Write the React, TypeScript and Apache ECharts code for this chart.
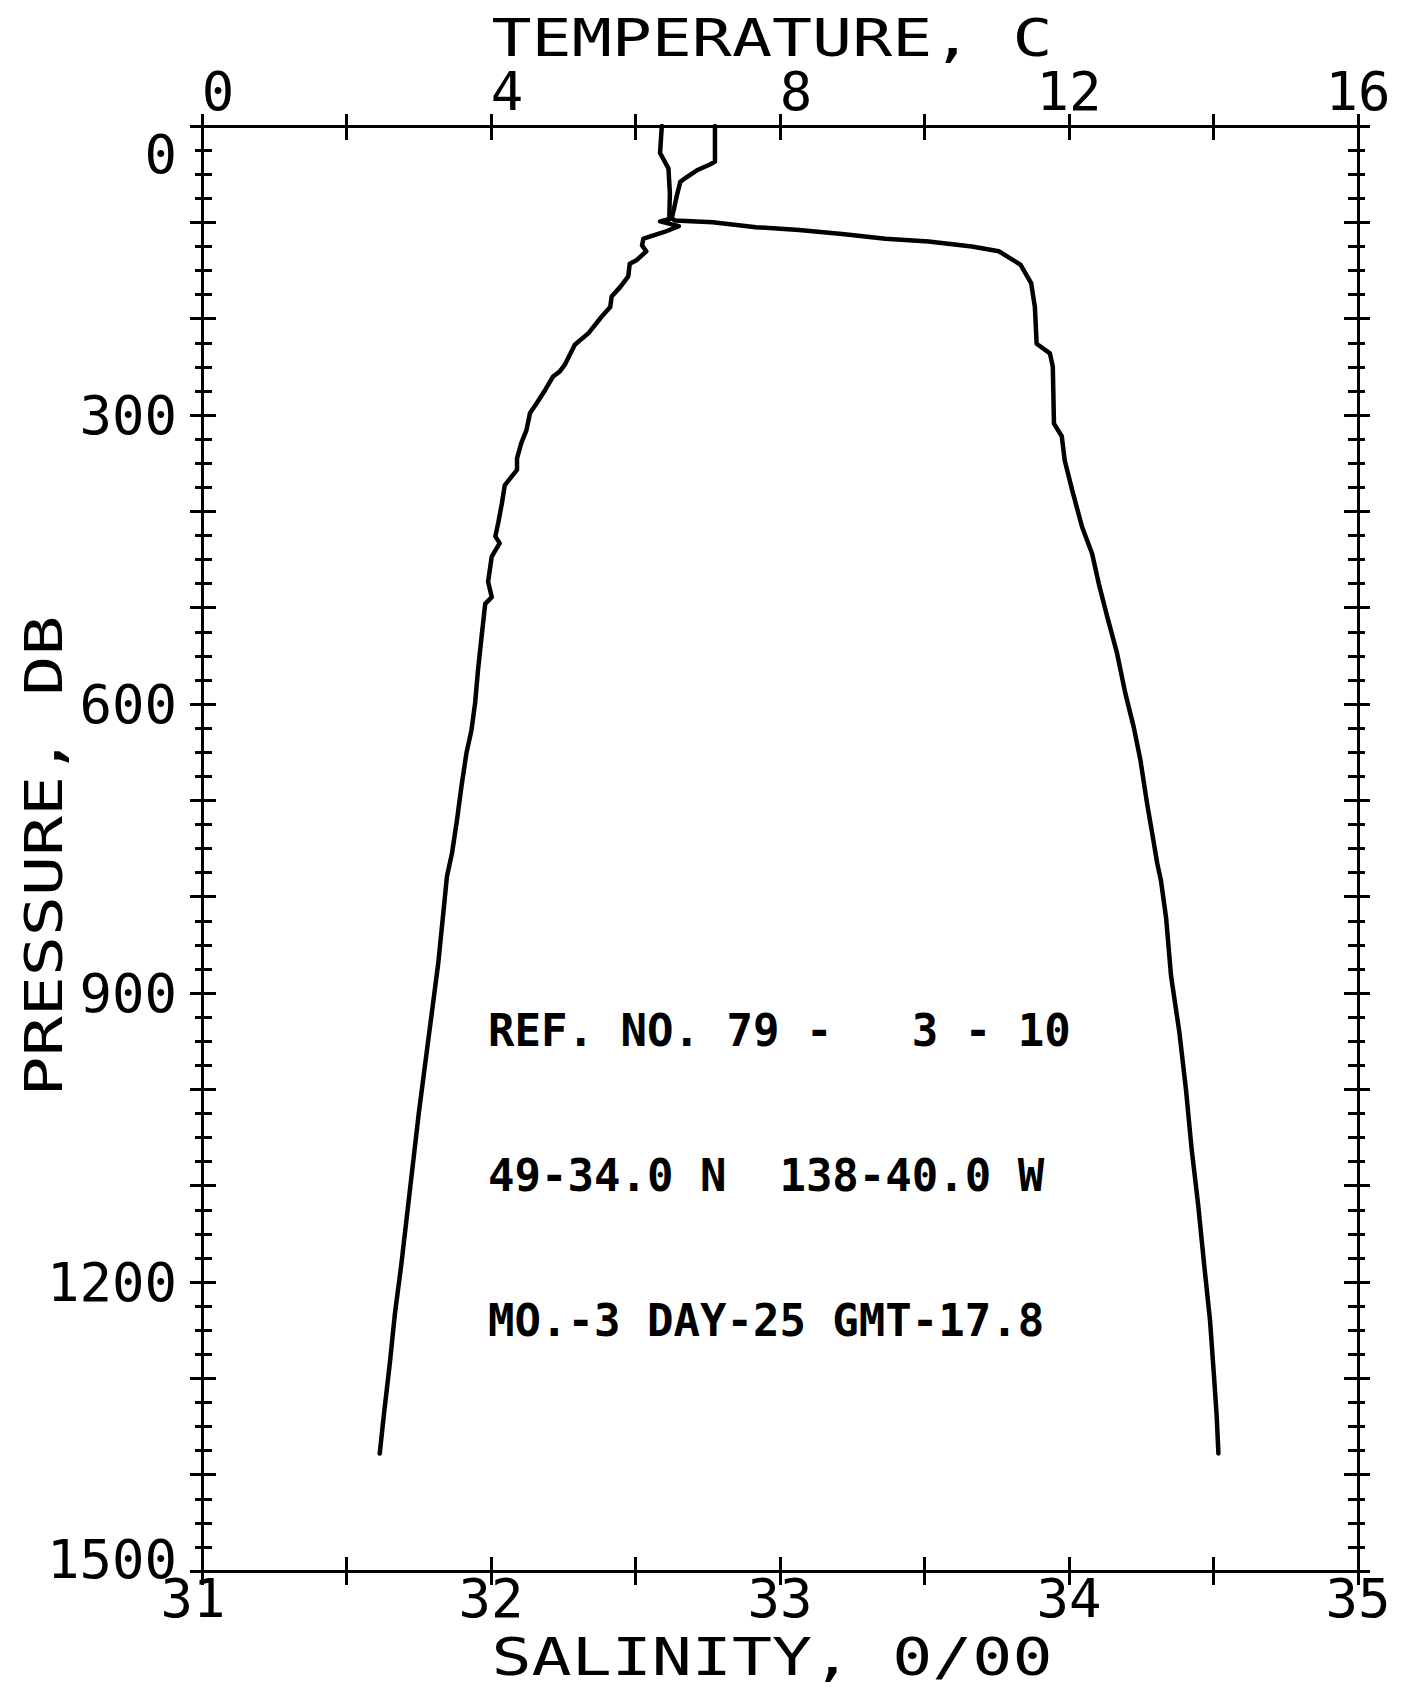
import React, { useEffect, useRef } from "react";
import * as echarts from "echarts";

// Temperature profile (deg C) vs pressure (dbar)
const temperatureC = [
  7.10, 7.10, 7.03, 6.85, 6.71, 6.62, 6.57, 6.53, 6.50, 6.34, 6.60, 6.40, 6.11, 6.09, 6.15, 6.02,
  5.92, 5.90, 5.79, 5.67, 5.65, 5.53, 5.35, 5.16, 5.02, 4.95, 4.86, 4.75, 4.63, 4.54, 4.49, 4.42,
  4.36, 4.36, 4.19, 4.15, 4.10, 4.06, 4.12, 4.01, 3.96, 4.01, 3.92, 3.87, 3.82, 3.78, 3.73, 3.66,
  3.59, 3.53, 3.46, 3.39, 3.34, 3.27, 3.18, 3.09, 3.00, 2.92, 2.84, 2.76, 2.67, 2.60, 2.52, 2.46,
];
const temperaturePressure = [
  0, 37, 40, 46, 53, 58, 73, 87, 96, 99, 104, 110, 117, 124, 130, 139,
  143, 156, 167, 177, 188, 198, 215, 227, 248, 255, 260, 274, 288, 298, 316, 329,
  345, 357, 373, 392, 412, 426, 433, 447, 473, 489, 496, 530, 565, 599, 627, 651,
  686, 720, 755, 779, 817, 869, 921, 973, 1025, 1077, 1129, 1181, 1233, 1284, 1336, 1378,
];

// Salinity profile (o/oo) vs pressure (dbar)
const salinity = [
  32.591, 32.585, 32.614, 32.619, 32.617, 32.636, 32.767, 32.917, 33.066, 33.215, 33.365, 33.514,
  33.664, 33.757, 33.832, 33.869, 33.882, 33.888, 33.934, 33.944, 33.946, 33.948, 33.975, 33.985,
  34.011, 34.045, 34.08, 34.103, 34.132, 34.166, 34.195, 34.224, 34.247, 34.27, 34.29, 34.305,
  34.318, 34.336, 34.353, 34.382, 34.405, 34.424, 34.447, 34.467, 34.488, 34.502, 34.511, 34.517,
];
const salinityPressure = [
  0, 28, 44, 70, 94, 98, 100, 105, 108, 112, 117, 120,
  125, 130, 144, 163, 188, 226, 236, 250, 280, 309, 322, 347,
  378, 416, 444, 475, 509, 547, 589, 624, 658, 703, 738, 765,
  783, 822, 882, 941, 1001, 1061, 1120, 1180, 1240, 1299, 1339, 1378,
];

const temperatureTickLabels = [0, 4, 8, 12, 16];
const salinityTickLabels = [31, 32, 33, 34, 35];
const pressureTickLabels = [0, 300, 600, 900, 1200, 1500];

const infoLines = ["REF. NO. 79 -   3 - 10", "49-34.0 N  138-40.0 W", "MO.-3 DAY-25 GMT-17.8"];
const titleTop = "TEMPERATURE, C";
const titleBottom = "SALINITY, 0/00";
const titleLeft = "PRESSURE, DB";

const FONT = '"DejaVu Sans Mono", "Liberation Mono", monospace';
const BLACK = "#000";

export default function App() {
  const ref = useRef<HTMLDivElement | null>(null);

  useEffect(() => {
    if (!ref.current) return;
    const chart = echarts.init(ref.current, null, { renderer: "svg" });

    const tempData = temperatureC.map((t, i) => [t, temperaturePressure[i]]);
    const salData = salinity.map((s, i) => [s, salinityPressure[i]]);

    const lineStyle = { color: BLACK, width: 3 };
    const labelBase = {
      color: BLACK,
      fontFamily: FONT,
      fontSize: 54,
    };

    const xBase = (extra: any) => ({
      type: "value",
      splitLine: { show: false },
      axisLine: { show: true, onZero: false, lineStyle },
      ...extra,
    });
    const yBase = (extra: any) => ({
      type: "value",
      inverse: true,
      min: 0,
      max: 1500,
      interval: 100,
      splitLine: { show: false },
      axisLine: { show: true, onZero: false, lineStyle },
      minorSplitLine: { show: false },
      ...extra,
    });

    const titleStyle = (text: string) => ({
      text,
      fill: BLACK,
      fontFamily: FONT,
      fontSize: 52,
      align: "center",
      verticalAlign: "middle",
      textAlign: "center",
      textVerticalAlign: "middle",
    });

    const option: any = {
      animation: false,
      backgroundColor: "#fff",
      grid: { left: 202, right: 49, top: 126, bottom: 122, containLabel: false },
      xAxis: [
        xBase({
          position: "bottom",
          min: 31,
          max: 35,
          interval: 0.5,
          axisTick: { show: true, inside: false, length: 14, lineStyle },
          axisLabel: {
            ...labelBase,
            margin: 0,
            showMinLabel: true,
            showMaxLabel: true,
            formatter: (v: number) =>
              salinityTickLabels.includes(v) ? (v === 31 ? `{l|${v}}` : `${v}`) : "",
            rich: { l: { ...labelBase, padding: [0, 18, 0, 0] } },
          },
        }),
        xBase({
          position: "bottom",
          min: 31,
          max: 35,
          interval: 0.5,
          axisTick: { show: true, inside: true, length: 14, lineStyle },
          axisLabel: { show: false },
        }),
        xBase({
          position: "top",
          min: 0,
          max: 16,
          interval: 2,
          axisTick: { show: true, inside: false, length: 12, lineStyle },
          axisLabel: {
            ...labelBase,
            margin: 8,
            showMinLabel: true,
            showMaxLabel: true,
            formatter: (v: number) =>
              temperatureTickLabels.includes(v) ? (v < 10 ? `{d|${v}}` : `${v}`) : "",
            rich: { d: { ...labelBase, padding: [0, 0, 0, 32] } },
          },
        }),
        xBase({
          position: "top",
          min: 0,
          max: 16,
          interval: 2,
          axisTick: { show: true, inside: true, length: 14, lineStyle },
          axisLabel: { show: false },
        }),
      ],
      yAxis: [
        yBase({
          position: "left",
          axisTick: { show: true, inside: false, length: 12, lineStyle },
          minorTick: { show: true, splitNumber: 4, length: 7, lineStyle },
          axisLabel: {
            ...labelBase,
            margin: 25,
            lineHeight: 44,
            showMinLabel: true,
            showMaxLabel: true,
            formatter: (v: number) => {
              if (!pressureTickLabels.includes(v)) return "";
              if (v === 0) return "{gap| }\n0";
              if (v === 1500) return "1500\n{gap2| }";
              return `${v}`;
            },
            rich: {
              gap: { fontSize: 10, lineHeight: 56 },
              gap2: { fontSize: 10, lineHeight: 24 },
            },
          },
        }),
        yBase({
          position: "left",
          axisTick: { show: true, inside: true, length: 14, lineStyle },
          minorTick: { show: true, splitNumber: 4, length: 10, lineStyle },
          axisLabel: { show: false },
        }),
        yBase({
          position: "right",
          axisTick: { show: true, inside: false, length: 12, lineStyle },
          minorTick: { show: true, splitNumber: 4, length: 7, lineStyle },
          axisLabel: { show: false },
        }),
        yBase({
          position: "right",
          axisTick: { show: true, inside: true, length: 14, lineStyle },
          minorTick: { show: true, splitNumber: 4, length: 10, lineStyle },
          axisLabel: { show: false },
        }),
      ],
      series: [
        {
          name: "Temperature",
          type: "line",
          xAxisIndex: 2,
          yAxisIndex: 0,
          data: tempData,
          showSymbol: false,
          symbol: "none",
          silent: true,
          lineStyle: { color: BLACK, width: 4.5, join: "round", cap: "round" },
        },
        {
          name: "Salinity",
          type: "line",
          xAxisIndex: 0,
          yAxisIndex: 0,
          data: salData,
          showSymbol: false,
          symbol: "none",
          silent: true,
          lineStyle: { color: BLACK, width: 4.5, join: "round", cap: "round" },
        },
      ],
      graphic: [
        { type: "text", x: 772, y: 38, scaleX: 1.28, style: titleStyle(titleTop) },
        { type: "text", x: 772, y: 1657, scaleX: 1.28, style: titleStyle(titleBottom) },
        {
          type: "text",
          x: 44,
          y: 856,
          rotation: Math.PI / 2,
          scaleX: 1.28,
          style: titleStyle(titleLeft),
        },
        ...infoLines.map((line, i) => ({
          type: "text",
          x: 488,
          y: 1030 + i * 145,
          style: {
            text: line,
            fill: BLACK,
            fontFamily: FONT,
            fontSize: 44,
            fontWeight: "bold",
            align: "left",
            verticalAlign: "middle",
            textAlign: "left",
            textVerticalAlign: "middle",
          },
        })),
      ],
    };

    chart.setOption(option);
    return () => {
      chart.dispose();
    };
  }, []);

  return (
    <div
      ref={ref}
      style={{
        position: "fixed",
        left: 0,
        top: 0,
        width: "1407px",
        height: "1693px",
        background: "#fff",
      }}
    />
  );
}
